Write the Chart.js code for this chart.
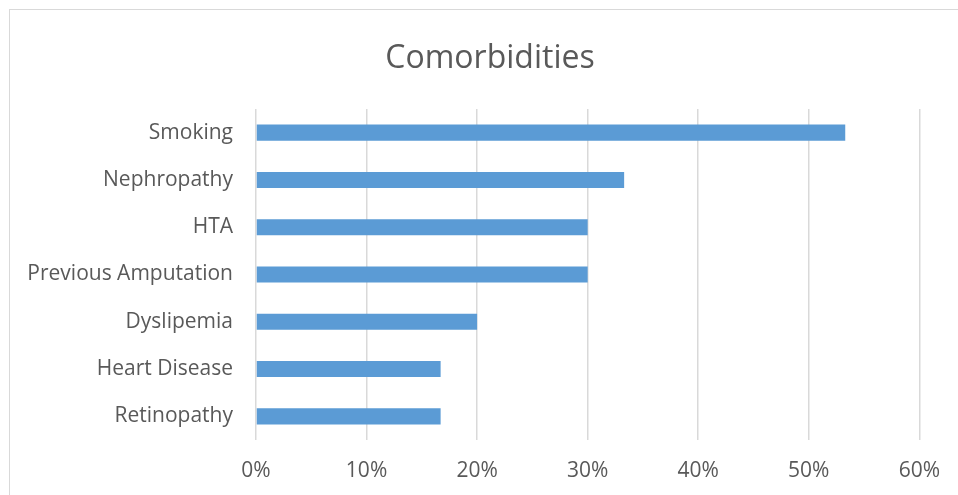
<!DOCTYPE html>
<html>
<head>
<meta charset="utf-8">
<script src="https://cdn.jsdelivr.net/npm/chart.js@4/dist/chart.umd.min.js"></script>
<style>
  html, body { margin: 0; padding: 0; background: #fff; overflow: hidden; }
  #frame { position: absolute; left: 9px; top: 9px; width: 1000px; height: 600px; border: 1px solid #d9d9d9; }
  #wrap { position: absolute; left: 0; top: 0; width: 958px; height: 495px; }
</style>
</head>
<body>
<div id="frame"></div>
<div id="wrap"><canvas id="myChart" width="958" height="495"></canvas></div>
<script>
// comorbidities, share of patients (%)
const categories = ['Smoking', 'Nephropathy', 'HTA', 'Previous Amputation', 'Dyslipemia', 'Heart Disease', 'Retinopathy'];
const values = [53.3, 33.3, 30, 30, 20, 16.7, 16.7];
const tickValues = [0, 10, 20, 30, 40, 50, 60];

const fontFamily = "'Open Sans', 'Noto Sans', sans-serif";
const textColor = '#595959';

// the title is centred on the whole frame, not on the plot
const titleShift = {
    id: 'titleShift',
    afterLayout(chart) {
        chart.titleBlock.left = 10;
        chart.titleBlock.right = 970;
    }
};

var ctx = document.getElementById('myChart').getContext('2d');
var myChart = new Chart(ctx, {
    type: 'bar',
    data: {
        labels: categories,
        datasets: [{
            data: values,
            backgroundColor: '#5b9bd5',
            borderWidth: 0,
            barPercentage: 0.68,
            categoryPercentage: 0.5
        }]
    },
    options: {
        indexAxis: 'y',
        responsive: false,
        animation: false,
        layout: { padding: { left: 10, right: 38, top: 10, bottom: 0 } },
        plugins: {
            legend: { display: false },
            tooltip: { enabled: false },
            title: {
                display: true,
                text: 'Comorbidities',
                color: textColor,
                font: { family: fontFamily, size: 32, weight: 'normal' },
                padding: { top: 29.5, bottom: 31.1 }
            }
        },
        scales: {
            x: {
                min: 0,
                max: 60,
                afterBuildTicks: (scale) => {
                    scale.ticks = tickValues.map(v => ({ value: v }));
                },
                afterFit: (scale) => { scale.height = 55; },
                border: { display: false },
                grid: { color: '#d9d9d9', lineWidth: 1.5, drawTicks: false },
                ticks: {
                    padding: 18,
                    color: textColor,
                    font: { family: fontFamily, size: 21 },
                    callback: (v) => v + '%'
                }
            },
            y: {
                afterFit: (scale) => { scale.width = 246; },
                border: { display: false },
                grid: { display: false, drawTicks: false },
                ticks: {
                    padding: 23,
                    color: textColor,
                    font: { family: fontFamily, size: 21 }
                }
            }
        }
    },
    plugins: [titleShift]
});
</script>
</body>
</html>
